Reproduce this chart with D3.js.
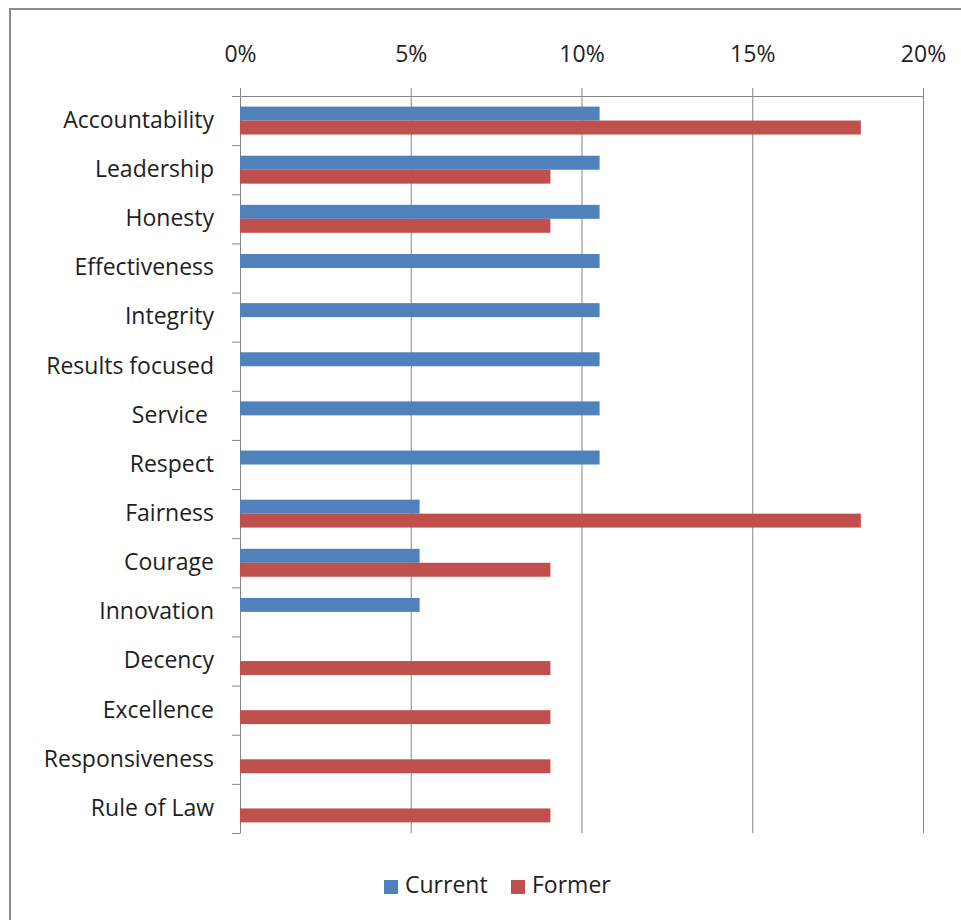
<!DOCTYPE html>
<html>
<head>
<meta charset="utf-8">
<script src="https://cdn.jsdelivr.net/npm/d3@7"></script>
<style>
    body{margin:0;background:#fff;}
    svg text{font-family:'Open Sans',sans-serif;fill:#1e1e1e;white-space:pre;}
</style>
</head>
<body>
<div id="graphWrapper"></div>
<script>
//data
const categories = ['Accountability','Leadership','Honesty','Effectiveness','Integrity','Results focused','Service ','Respect','Fairness','Courage','Innovation','Decency','Excellence','Responsiveness','Rule of Law'];
const currentValues = [10.53,10.53,10.53,10.53,10.53,10.53,10.53,10.53,5.26,5.26,5.26,0,0,0,0];
const formerValues = [18.18,9.09,9.09,0,0,0,0,0,18.18,9.09,0,9.09,9.09,9.09,9.09];
const seriesNames = ['Current','Former'];
const tickValues = [0,5,10,15,20];

const CONSTANTS = {
    WIDTH:961,
    HEIGHT:920,
    LEFT:240,   //x of the 0% line
    RIGHT:923,  //x of the 20% line
    TOP:96,     //top axis line
    BOTTOM:833, //bottom of the plot area
    GRID:'#868686',
    COLORS:{Current:'#4f81bd',Former:'#c0504d'},
    FONT_SIZE:23
};

function main(){
    let svg = d3.select('#graphWrapper')
        .append('svg')
        .attr('width',CONSTANTS.WIDTH)
        .attr('height',CONSTANTS.HEIGHT);

    //outer chart frame, runs off the picture on the right and bottom
    svg.append('rect')
        .attr('x',10)
        .attr('y',9)
        .attr('width',1000)
        .attr('height',1000)
        .style('fill','none')
        .style('stroke','#8a8a8a')
        .style('stroke-width',2);

    let scales = buildScales();
    buildAxis(svg,scales);
    buildBars(svg,scales);
    buildLegend(svg);
}

function buildScales(){
    let x = d3.scaleLinear()
        .domain([0,20])
        .range([CONSTANTS.LEFT,CONSTANTS.RIGHT]);

    let y = d3.scaleBand()
        .domain(categories)
        .range([CONSTANTS.TOP,CONSTANTS.BOTTOM])
        .padding(0);

    let ySub = d3.scaleBand()
        .domain(seriesNames)
        .range([0,y.bandwidth()])
        .paddingInner(0)
        .paddingOuter(0.76);

    //band boundaries, used for the left tick marks
    let yEdges = d3.scaleLinear()
        .domain([0,categories.length])
        .range([CONSTANTS.TOP,CONSTANTS.BOTTOM]);

    return {x:x,y:y,ySub:ySub,yEdges:yEdges};
}

function buildAxis(svg,scales){
    let plotHeight = CONSTANTS.BOTTOM - CONSTANTS.TOP;

    //top axis with gridlines
    let xAxis = d3.axisTop(scales.x)
        .tickValues(tickValues)
        .tickFormat(d=>d + '%')
        .tickSizeInner(8)
        .tickSizeOuter(0)
        .tickPadding(26);

    let gx = svg.append('g')
        .attr('id','x-axis')
        .attr('transform','translate(0,' + CONSTANTS.TOP + ')')
        .call(xAxis);
    gx.select('.domain').attr('stroke',CONSTANTS.GRID);
    gx.selectAll('.tick line')
        .attr('stroke',CONSTANTS.GRID)
        .attr('y1',d=>d === 0 ? 0 : plotHeight);
    gx.selectAll('.tick text')
        .style('font-size',CONSTANTS.FONT_SIZE + 'px')
        .attr('fill','#1e1e1e');

    //left axis line and boundary ticks
    let edgeAxis = d3.axisLeft(scales.yEdges)
        .tickValues(d3.range(categories.length + 1))
        .tickFormat('')
        .tickSizeInner(8)
        .tickSizeOuter(0);

    let ge = svg.append('g')
        .attr('transform','translate(' + CONSTANTS.LEFT + ',0)')
        .call(edgeAxis);
    ge.select('.domain').attr('stroke',CONSTANTS.GRID);
    ge.selectAll('.tick line').attr('stroke',CONSTANTS.GRID);

    //category labels
    let yAxis = d3.axisLeft(scales.y)
        .tickSize(0)
        .tickPadding(26);

    let gy = svg.append('g')
        .attr('id','y-axis')
        .attr('transform','translate(' + CONSTANTS.LEFT + ',0)')
        .call(yAxis);
    gy.select('.domain').remove();
    gy.selectAll('.tick text')
        .style('font-size',CONSTANTS.FONT_SIZE + 'px')
        .attr('fill','#1e1e1e');
}

function buildBars(svg,scales){
    let rows = categories.map((c,i)=>({
        category:c,
        values:[
            {series:'Current',value:currentValues[i]},
            {series:'Former',value:formerValues[i]}
        ]
    }));

    let groups = svg.append('g')
        .selectAll('g')
        .data(rows)
        .enter()
        .append('g')
        .attr('transform',d=>'translate(0,' + scales.y(d.category) + ')');

    groups.selectAll('rect')
        .data(d=>d.values.filter(v=>v.value > 0))
        .enter()
        .append('rect')
        .attr('x',scales.x(0))
        .attr('y',d=>scales.ySub(d.series))
        .attr('width',d=>scales.x(d.value) - scales.x(0))
        .attr('height',scales.ySub.bandwidth())
        .style('fill',d=>CONSTANTS.COLORS[d.series]);
}

function buildLegend(svg){
    let offsets = {Current:384,Former:511};

    let items = svg.append('g')
        .attr('id','legend')
        .selectAll('g')
        .data(seriesNames)
        .enter()
        .append('g')
        .attr('transform',d=>'translate(' + offsets[d] + ',880)');

    items.append('rect')
        .attr('width',14)
        .attr('height',14)
        .style('fill',d=>CONSTANTS.COLORS[d]);

    items.append('text')
        .text(d=>d)
        .attr('x',21)
        .attr('y',13)
        .style('font-size',CONSTANTS.FONT_SIZE + 'px');
}

main();
</script>
</body>
</html>
